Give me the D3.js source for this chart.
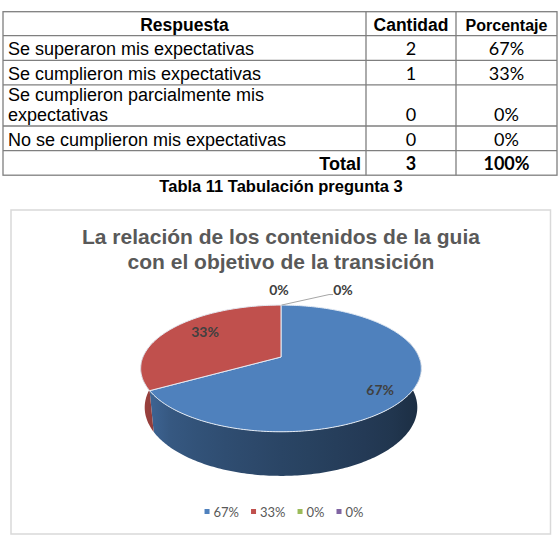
<!DOCTYPE html>
<html>
<head>
<meta charset="utf-8">
<script src="https://cdn.jsdelivr.net/npm/d3@7"></script>
<style>
  html, body { margin: 0; padding: 0; background: #ffffff; }
  svg { display: block; }
</style>
</head>
<body>
<div id="chart"></div>
<script>
// ---------- DATA ----------
const headers = ["Respuesta", "Cantidad", "Porcentaje"];
const respuestas = [
  "Se superaron mis expectativas",
  "Se cumplieron mis expectativas",
  "Se cumplieron parcialmente mis\nexpectativas",
  "No se cumplieron mis expectativas"
];
const cantidades = [2, 1, 0, 0];
const porcentajes = ["67%", "33%", "0%", "0%"];
const totalRow = ["Total", "3", "100%"];
const caption = "Tabla 11 Tabulación pregunta 3";

const chartTitle = ["La relación de los contenidos de la guia", "con el objetivo de la transición"];
const sliceValues = [2, 1, 0, 0];
const sliceLabels = ["67%", "33%", "0%", "0%"];
const legendLabels = ["67%", "33%", "0%", "0%"];
const sliceColors = ["#4f81bd", "#c0504d", "#9bbb59", "#8064a2"];

// ---------- SETUP ----------
const W = 559, H = 548;
const svg = d3.select("#chart").append("svg").attr("width", W).attr("height", H);
const defs = svg.append("defs");

// ---------- TABLE ----------
const colX = [3, 366, 456, 557];
const tableTop = 11.7;
const rows = [
  { cells: headers, header: true },
  ...respuestas.map((r, i) => ({ cells: [r, String(cantidades[i]), porcentajes[i]] })),
  { cells: totalRow, total: true }
];
rows.forEach(r => { r.lines = r.cells[0].split("\n"); r.h = (r.header ? 24 : 24.6) + (r.lines.length - 1) * 16.5; });
let yAcc = tableTop;
rows.forEach(r => { r.y0 = yAcc; yAcc += r.h; r.y1 = yAcc; });
const tableBottom = yAcc;

const tbl = svg.append("g").attr("class", "table");
const lineColor = "#7f7f7f";
tbl.append("rect").attr("x", colX[0]).attr("y", tableTop).attr("width", colX[3] - colX[0]).attr("height", tableBottom - tableTop)
  .attr("fill", "none").attr("stroke", lineColor).attr("stroke-width", 1.3);
tbl.selectAll("line.h").data(rows.slice(0, -1)).join("line").attr("class", "h")
  .attr("x1", colX[0]).attr("x2", colX[3]).attr("y1", d => d.y1).attr("y2", d => d.y1)
  .attr("stroke", lineColor).attr("stroke-width", 1.3);
tbl.selectAll("line.v").data([colX[1], colX[2]]).join("line").attr("class", "v")
  .attr("x1", d => d).attr("x2", d => d).attr("y1", tableTop).attr("y2", tableBottom)
  .attr("stroke", lineColor).attr("stroke-width", 1.3);

const colCenter = i => (colX[i] + colX[i + 1]) / 2;
rows.forEach(r => {
  const base = r.y1 - 5;
  if (r.header) {
    const sizes = [17.5, 17.5, 16];
    r.cells.forEach((t, i) => {
      tbl.append("text").attr("x", colCenter(i)).attr("y", base).attr("text-anchor", "middle")
        .attr("font-family", "'Liberation Sans', Arial, sans-serif").attr("font-weight", "bold")
        .attr("font-size", sizes[i]).attr("fill", "#000").text(t);
    });
  } else if (r.total) {
    tbl.append("text").attr("x", colX[1] - 5).attr("y", base).attr("text-anchor", "end")
      .attr("font-family", "'Liberation Sans', Arial, sans-serif").attr("font-weight", "bold")
      .attr("font-size", 18).attr("fill", "#000").text(r.cells[0]);
    [1, 2].forEach(i => {
      tbl.append("text").attr("x", colCenter(i)).attr("y", base).attr("text-anchor", "middle")
        .attr("font-family", "Lato, sans-serif").attr("font-weight", "bold")
        .attr("font-size", 18).attr("fill", "#000").text(r.cells[i]);
    });
  } else {
    const n = r.lines.length;
    r.lines.forEach((ln, k) => {
      tbl.append("text").attr("x", colX[0] + 5).attr("y", base - (n - 1 - k) * 20.5)
        .attr("font-family", "'Liberation Sans', Arial, sans-serif")
        .attr("font-size", 18).attr("fill", "#000").text(ln);
    });
    [1, 2].forEach(i => {
      tbl.append("text").attr("x", colCenter(i)).attr("y", base).attr("text-anchor", "middle")
        .attr("font-family", "Lato, sans-serif")
        .attr("font-size", 18).attr("fill", "#000").text(r.cells[i]);
    });
  }
});
svg.append("text").attr("x", 281).attr("y", 192).attr("text-anchor", "middle")
  .attr("font-family", "'Liberation Sans', Arial, sans-serif").attr("font-weight", "bold")
  .attr("font-size", 16.5).attr("fill", "#000").text(caption);

// ---------- CHART BOX ----------
svg.append("rect").attr("x", 11).attr("y", 210).attr("width", 539.5).attr("height", 324)
  .attr("fill", "#fff").attr("stroke", "#d9d9d9").attr("stroke-width", 1.5);

svg.selectAll("text.title").data(chartTitle).join("text").attr("class", "title")
  .attr("x", 281).attr("y", (d, i) => 244 + i * 24.5).attr("text-anchor", "middle")
  .attr("font-family", "'Liberation Sans', Arial, sans-serif").attr("font-weight", "bold")
  .attr("font-size", 21).attr("fill", "#595959").text(d => d);

// ---------- 3D PIE ----------
const pcx = 281, pcy = 357, K = 686, Dd = 4.97, sn = 0.444, cs = 0.896, depth = 0.32;
function proj(phi, r, y) {
  const x = r * Math.sin(phi), z = -r * Math.cos(phi);
  const w = Dd - z * cs - y * sn;
  return [pcx + K * x / w, pcy + K * (z * sn - y * cs) / w];
}
const pie = d3.pie().sort(null).value(d => d)(sliceValues);
const color = d3.scaleOrdinal().domain(d3.range(sliceValues.length)).range(sliceColors);
const step = Math.PI / 180;
const shadeK = phi => { // darker toward right (90deg), lighter toward left (270deg)
  const deg = ((phi * 180 / Math.PI) % 360 + 360) % 360;
  const t = Math.max(0, Math.min(1, (deg - 90) / 180));
  return 2.9 - 2.3 * t;
};

// gradients across the pie width for each slice wall
const xL = proj(1.5 * Math.PI, 1, 0)[0], xR = proj(0.5 * Math.PI, 1, 0)[0];
sliceColors.forEach((c, i) => {
  const g = defs.append("linearGradient").attr("id", "wall" + i)
    .attr("gradientUnits", "userSpaceOnUse").attr("x1", xL).attr("x2", xR).attr("y1", 0).attr("y2", 0);
  d3.range(0, 1.0001, 0.1).forEach(f => {
    // x fraction f -> front angle phi in [270deg .. 90deg] passing through 180
    const sx = 2 * f - 1; // -1 .. 1
    const phi = Math.PI - Math.asin(Math.max(-1, Math.min(1, sx)));
    g.append("stop").attr("offset", f).attr("stop-color", d3.color(color(i)).darker(shadeK(phi)).formatHex());
  });
});

// front walls: one polygon per slice, clipped to the front half
const walls = pie.filter(a => a.endAngle > a.startAngle).map(a => {
  const lo = Math.max(a.startAngle, 0.42 * Math.PI), hi = Math.min(a.endAngle, 1.58 * Math.PI);
  return { a, lo, hi };
}).filter(w => w.hi > w.lo);
svg.append("g").selectAll("path").data(walls).join("path")
  .attr("d", w => {
    const n = Math.max(2, Math.ceil((w.hi - w.lo) / step));
    const top = [], bot = [];
    for (let k = 0; k <= n; k++) {
      const p = w.lo + (w.hi - w.lo) * k / n;
      top.push(proj(p, 1, 0));
      bot.push(proj(p, 1, -depth));
    }
    return "M" + top.concat(bot.reverse()).map(p => p.join(",")).join("L") + "Z";
  })
  .attr("fill", w => `url(#wall${w.a.index})`);

// top faces
svg.append("g").selectAll("path").data(pie.filter(a => a.endAngle > a.startAngle)).join("path")
  .attr("d", a => {
    const pts = [proj(0, 0, 0)];
    const n = Math.max(2, Math.ceil((a.endAngle - a.startAngle) / step));
    for (let k = 0; k <= n; k++) pts.push(proj(a.startAngle + (a.endAngle - a.startAngle) * k / n, 1, 0));
    return "M" + pts.map(p => p.join(",")).join("L") + "Z";
  })
  .attr("fill", a => color(a.index))
  .attr("stroke", "#e4ebf4").attr("stroke-width", 1).attr("stroke-linejoin", "round");

// labels
const labelFont = "Lato, sans-serif";
const nz = pie.filter(a => a.value > 0);
svg.selectAll("text.plab").data(nz).join("text").attr("class", "plab")
  .attr("x", a => proj((a.startAngle + a.endAngle) / 2, 0.75, 0)[0] + (a.index === 1 ? 8 : 3))
  .attr("y", a => proj((a.startAngle + a.endAngle) / 2, 0.75, 0)[1] + (a.index === 0 ? 13 : 2))
  .attr("text-anchor", "middle").attr("font-family", labelFont).attr("font-weight", "bold")
  .attr("font-size", 14).attr("fill", "#404040").text(a => sliceLabels[a.index]);

const zeros = pie.filter(a => a.value === 0);
const topPt = proj(0, 1, 0);
zeros.forEach((a, k) => {
  if (k === 0) {
    svg.append("text").attr("x", topPt[0] - 2).attr("y", topPt[1] - 10)
      .attr("text-anchor", "middle").attr("font-family", labelFont).attr("font-weight", "bold")
      .attr("font-size", 14).attr("fill", "#404040").text(sliceLabels[a.index]);
  } else {
    svg.append("polyline")
      .attr("points", [[topPt[0] + 0.5, topPt[1]], [topPt[0] + 48, topPt[1] - 10.5], [topPt[0] + 52, topPt[1] - 10.5]].map(p => p.join(",")).join(" "))
      .attr("fill", "none").attr("stroke", "#a6a6a6").attr("stroke-width", 1);
    svg.append("text").attr("x", topPt[0] + 62).attr("y", topPt[1] - 10)
      .attr("text-anchor", "middle").attr("font-family", labelFont).attr("font-weight", "bold")
      .attr("font-size", 14).attr("fill", "#404040").text(sliceLabels[a.index]);
  }
});

// ---------- LEGEND ----------
const legend = svg.append("g");
const items = legend.selectAll("g").data(legendLabels).join("g");
items.append("rect").attr("width", 5).attr("height", 5).attr("y", -3).attr("fill", (d, i) => color(i));
items.append("text").attr("x", 9).attr("y", 0).attr("dy", "0.35em").attr("font-family", "Lato, sans-serif")
  .attr("font-size", 13).attr("fill", "#595959").text(d => d);
let lx = 0;
items.each(function () {
  const tw = d3.select(this).select("text").node().getComputedTextLength();
  d3.select(this).attr("transform", `translate(${lx},0)`);
  lx += 9 + tw + 12;
});
const totalW = lx - 12;
legend.attr("transform", `translate(${284 - totalW / 2},512)`);
</script>
</body>
</html>
